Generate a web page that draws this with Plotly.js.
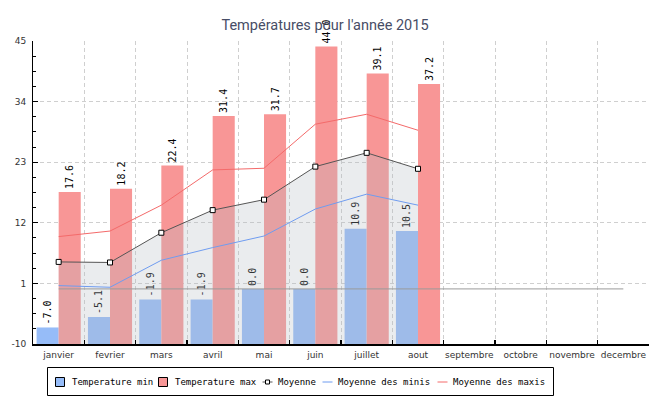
<!DOCTYPE html>
<html>
<head>
<meta charset="utf-8">
<script src="https://cdn.plot.ly/plotly-3.0.1.min.js"></script>
<style>html,body{margin:0;padding:0;background:#fff;}#chart{width:650px;height:400px;}</style>
</head>
<body>
<div id="chart"></div>
<script>
// ---- data ----
const MONTHS = ['janvier','fevrier','mars','avril','mai','juin','juillet','aout','septembre','octobre','novembre','decembre'];
const DATA_MONTHS = ['janvier','fevrier','mars','avril','mai','juin','juillet','aout'];
const TEMP_MIN = [-7.0, -5.1, -1.9, -1.9, 0.0, 0.0, 10.9, 10.5];
const TEMP_MAX = [17.6, 18.2, 22.4, 31.4, 31.7, 44.0, 39.1, 37.2];
const MOYENNE = [4.9, 4.8, 10.2, 14.3, 16.2, 22.2, 24.7, 21.8];
const MOY_MINIS = [0.6, 0.3, 5.2, 7.5, 9.6, 14.5, 17.2, 15.2];
const MOY_MAXIS = [9.5, 10.5, 15.2, 21.6, 21.9, 29.9, 31.7, 28.8];
const ZERO_LINE = [0,0,0,0,0,0,0,0,0,0,0,0];
const NAMES = ['Temperature min','Temperature max','Moyenne','Moyenne des minis','Moyenne des maxis'];
const Y_TICKS = [-10, 1, 12, 23, 34, 45];
const TITLE = "Températures pour l'année 2015";

// ---- styles ----
const YBASE = -10;
const C_MIN = '#96bcf8', C_MAX = '#f89696';
const C_LMIN = '#6f9cf0', C_LMAX = '#f46a6a', C_MOY = '#555555';
const W = 650, H = 400, M = {l:33, r:1, t:41, b:56, pad:0};
const PW = W - M.l - M.r, PH = H - M.t - M.b;
const px = p => (p - M.l) / PW;
const py = p => (H - M.b - p) / PH;
const barText = {family:'DejaVu Sans Mono', size:10, color:'#000'};

const traces = [
  {type:'bar', name:NAMES[0], x:DATA_MONTHS, y:TEMP_MIN.map(v => v - YBASE), base:YBASE,
   marker:{color:C_MIN, line:{width:0}}, text:TEMP_MIN.map(v => v.toFixed(1)),
   textposition:'outside', textangle:-90, textfont:barText, cliponaxis:false, constraintext:'none',
   showlegend:false, hoverinfo:'skip'},
  {type:'bar', name:NAMES[1], x:DATA_MONTHS, y:TEMP_MAX.map(v => v - YBASE), base:YBASE,
   marker:{color:C_MAX, line:{width:0}}, text:TEMP_MAX.map(v => v.toFixed(1)),
   textposition:'outside', textangle:-90, textfont:barText, cliponaxis:false, constraintext:'none',
   showlegend:false, hoverinfo:'skip'},
  {type:'scatter', mode:'lines', x:DATA_MONTHS, y:DATA_MONTHS.map(() => YBASE),
   line:{width:0, color:'rgba(0,0,0,0)'}, showlegend:false, hoverinfo:'skip'},
  {type:'scatter', mode:'lines+markers', name:NAMES[2], x:DATA_MONTHS, y:MOYENNE,
   fill:'tonexty', fillcolor:'rgba(180,186,194,0.28)',
   line:{color:C_MOY, width:1}, marker:{symbol:'square', size:5, color:'#fff', line:{color:'#000', width:1}},
   showlegend:false},
  {type:'scatter', mode:'lines', x:MONTHS, y:ZERO_LINE, line:{color:'#9a9a9a', width:1}, showlegend:false, hoverinfo:'skip'},
  {type:'scatter', mode:'lines', name:NAMES[3], x:DATA_MONTHS, y:MOY_MINIS, line:{color:C_LMIN, width:1}, showlegend:false},
  {type:'scatter', mode:'lines', name:NAMES[4], x:DATA_MONTHS, y:MOY_MAXIS, line:{color:C_LMAX, width:1}, showlegend:false}
];

// legend (drawn in paper coordinates)
const LY = 382;
const shapes = [
  {type:'rect', xref:'paper', yref:'paper', x0:px(47.5), x1:px(553.5), y0:py(395.5), y1:py(367.5),
   line:{color:'#000', width:1}, fillcolor:'#fff', layer:'above'},
  {type:'rect', xref:'paper', yref:'paper', x0:px(55.5), x1:px(64.5), y0:py(386.5), y1:py(377.5),
   line:{color:'#000', width:1}, fillcolor:C_MIN, layer:'above'},
  {type:'rect', xref:'paper', yref:'paper', x0:px(158.5), x1:px(167.5), y0:py(386.5), y1:py(377.5),
   line:{color:'#000', width:1}, fillcolor:C_MAX, layer:'above'},
  {type:'line', xref:'paper', yref:'paper', x0:px(262.5), x1:px(272.5), y0:py(LY), y1:py(LY),
   line:{color:C_MOY, width:1}, layer:'above'},
  {type:'rect', xref:'paper', yref:'paper', x0:px(265.5), x1:px(269.5), y0:py(LY+2), y1:py(LY-2),
   line:{color:'#000', width:1}, fillcolor:'#fff', layer:'above'},
  {type:'line', xref:'paper', yref:'paper', x0:px(322.5), x1:px(332.5), y0:py(LY), y1:py(LY),
   line:{color:C_LMIN, width:1}, layer:'above'},
  {type:'line', xref:'paper', yref:'paper', x0:px(437.5), x1:px(447.5), y0:py(LY), y1:py(LY),
   line:{color:C_LMAX, width:1}, layer:'above'}
];
const LEG_X = [72, 175, 278, 338, 453];
const annotations = NAMES.map((n, i) => ({
  text:n, xref:'paper', yref:'paper', x:px(LEG_X[i] - 2), y:py(LY), xanchor:'left', yanchor:'middle',
  showarrow:false, font:{family:'DejaVu Sans Mono', size:9, color:'#000'}
}));

const axFont = {family:'DejaVu Sans', size:9, color:'#333'};
const layout = {
  width:W, height:H, margin:M, paper_bgcolor:'#fff', plot_bgcolor:'#fff',
  title:{text:TITLE, x:0.5, xanchor:'center', xref:'container', y:(H-25)/H, yanchor:'middle', yref:'container',
         font:{family:'Roboto', size:14.5, color:'#474d66'}},
  barmode:'group', bargap:0.14, bargroupgap:0,
  showlegend:false,
  xaxis:{type:'category', categoryorder:'array', categoryarray:MONTHS, range:[-0.5, 11.5],
         tickson:'boundaries', ticks:'inside', ticklen:4, tickwidth:1.5, tickcolor:'#000', tickangle:0,
         showgrid:true, gridcolor:'#cfcfcf', griddash:'4px,3px', gridwidth:1,
         showline:true, linecolor:'#000', linewidth:1.5, tickfont:axFont, ticklabelstandoff:2,
         fixedrange:true, zeroline:false},
  yaxis:{range:[-10, 45], tickmode:'array', tickvals:Y_TICKS, ticktext:Y_TICKS.map(String),
         ticks:'inside', ticklen:5, tickcolor:'#000', tickwidth:1,
         minor:{tick0:-10, dtick:2.75, ticks:'inside', ticklen:3, tickcolor:'#000', showgrid:false},
         showgrid:true, gridcolor:'#cfcfcf', griddash:'4px,3px', gridwidth:1, zeroline:false,
         showline:true, linecolor:'#000', linewidth:1, tickfont:axFont, ticklabelstandoff:4, fixedrange:true},
  shapes:shapes, annotations:annotations
};

Plotly.newPlot('chart', traces, layout, {staticPlot:true, displayModeBar:false});
</script>
</body>
</html>
